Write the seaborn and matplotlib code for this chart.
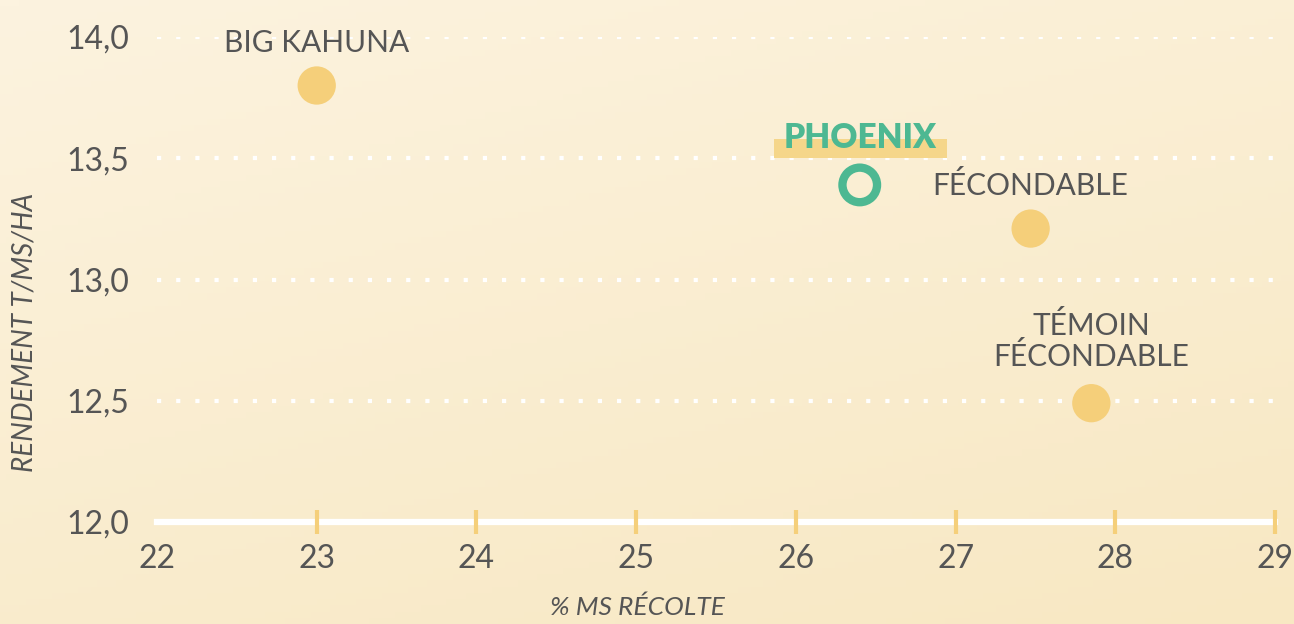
import numpy as np
import pandas as pd
import matplotlib
matplotlib.use("Agg")
import matplotlib.pyplot as plt
import matplotlib.transforms as mtransforms
from matplotlib.patches import Rectangle
from matplotlib.colors import LinearSegmentedColormap
import seaborn as sns

# ---- data ----
varieties = ["BIG KAHUNA", "PHOENIX", "FÉCONDABLE", "TÉMOIN\nFÉCONDABLE"]
ms_recolte = [23.0, 26.4, 27.47, 27.85]
rendement = [13.80, 13.39, 13.21, 12.49]
groupe = ["autre", "phoenix", "autre", "autre"]
x_ticks = [22, 23, 24, 25, 26, 27, 28, 29]
y_ticks = [12.0, 12.5, 13.0, 13.5, 14.0]

df = pd.DataFrame({"variete": varieties, "ms": ms_recolte, "rdt": rendement, "groupe": groupe})

sns.set_theme(style="white")
plt.rcParams["font.family"] = ["Lato", "DejaVu Sans"]

GREY = "#555555"
YELLOW = "#F5CF7A"
GREEN = "#4DB892"

fig = plt.figure(figsize=(12.94, 6.24), dpi=100)

# background gradient
bg_ax = fig.add_axes([0, 0, 1, 1], zorder=-10)
gx, gy = np.meshgrid(np.linspace(0, 1, 200), np.linspace(0, 1, 100))
grad = 0.65 * gy + 0.35 * gx
cmap = LinearSegmentedColormap.from_list("bg", ["#FCF3DF", "#F8E8C3"])
bg_ax.imshow(grad, cmap=cmap, aspect="auto", extent=[0, 1, 0, 1], origin="upper")
bg_ax.axis("off")

ax = fig.add_axes([157 / 1294, 1 - 522 / 624, (1275 - 157) / 1294, (522 - 37) / 624])
ax.patch.set_alpha(0)

# gridlines (dotted white)
for yv in y_ticks[1:]:
    ax.axhline(yv, color="white", lw=3, linestyle=(0, (1, 3.6)), dash_capstyle="butt", zorder=1)

others = df[df.groupe == "autre"]
ph = df[df.groupe == "phoenix"]
sns.scatterplot(data=others, x="ms", y="rdt", color=YELLOW, s=760, edgecolor="none",
                ax=ax, zorder=3, legend=False, clip_on=False)
sns.scatterplot(data=ph, x="ms", y="rdt", s=620, facecolor="none", edgecolor=GREEN,
                linewidth=6, ax=ax, zorder=3, legend=False, clip_on=False)

ax.set_xlim(22, 29)
ax.set_ylim(12, 14)
ax.set_xticks(x_ticks)
ax.set_xticklabels([str(t) for t in x_ticks])
ax.set_yticks(y_ticks)
ax.set_yticklabels([f"{t:.1f}".replace(".", ",") for t in y_ticks])

for s in ["top", "right", "left"]:
    ax.spines[s].set_visible(False)
ax.spines["bottom"].set_color("white")
ax.spines["bottom"].set_linewidth(4.5)
ax.spines["bottom"].set_zorder(0.8)
ax.xaxis.set_zorder(4)

ax.tick_params(axis="x", bottom=True, direction="inout", length=17, width=3, color=YELLOW,
               labelsize=23, labelcolor=GREY, pad=7)
ax.tick_params(axis="y", left=False, length=0, labelsize=23, labelcolor=GREY, pad=20)
ax.xaxis.get_major_ticks()[0].tick1line.set_visible(False)
for t in ax.xaxis.get_major_ticks():
    t.tick1line.set_clip_on(False)

ax.set_xlabel("")
ax.set_ylabel("")
fig.text(637 / 1294, 1 - 607 / 624, "% MS RÉCOLTE", ha="center", va="center",
         fontsize=19, style="italic", color=GREY)
fig.text(25 / 1294, 1 - 332 / 624, "RENDEMENT T/MS/HA", ha="center", va="center",
         rotation=90, fontsize=20, style="italic", color=GREY)

# labels
offsets = {"BIG KAHUNA": 43, "FÉCONDABLE": 43, "TÉMOIN\nFÉCONDABLE": 62, "PHOENIX": 47}
for _, r in df.iterrows():
    if r.variete == "PHOENIX":
        ax.annotate(r.variete, (r.ms, r.rdt), xytext=(0, offsets[r.variete]),
                    textcoords="offset pixels", ha="center", va="center",
                    fontsize=24, fontweight="heavy", color=GREEN, zorder=6)
    else:
        ax.annotate(r.variete, (r.ms, r.rdt), xytext=(0, offsets[r.variete]),
                    textcoords="offset pixels", ha="center", va="center",
                    fontsize=21.5, color=GREY, zorder=6, linespacing=1.1)

# highlight bar behind PHOENIX (pixel offsets relative to its point)
px, py = ph.ms.iloc[0], ph.rdt.iloc[0]
rect = Rectangle((-86, 27), 173, 19, facecolor="#F5D68A", edgecolor="none", zorder=5)
ax.add_artist(rect)
rect.set_transform(mtransforms.Affine2D().translate(*ax.transData.transform((px, py))))
rect.set_zorder(5)
rect.set_clip_on(False)

fig.savefig("out.png", dpi=100)
